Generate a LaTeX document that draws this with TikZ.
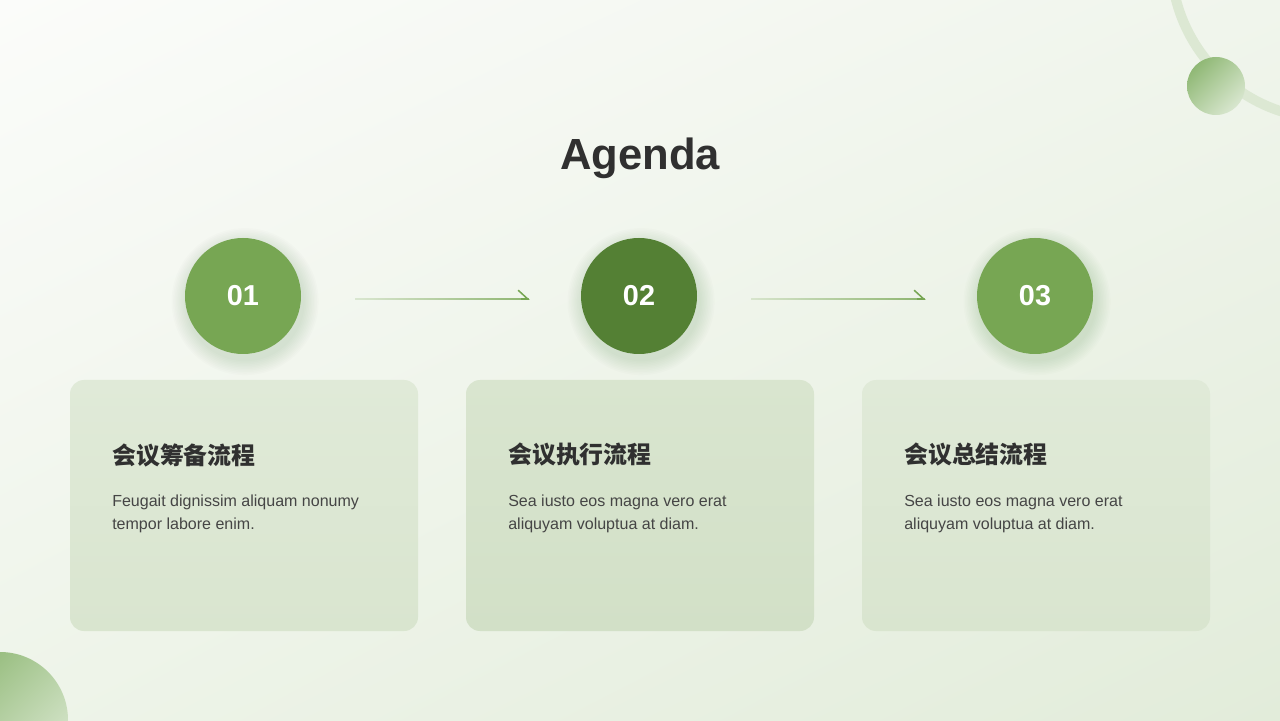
\documentclass[tikz,border=0pt]{standalone}
\usepackage{fontspec}
\setmainfont{Liberation Sans}
\newfontfamily\cjk{Noto Sans CJK SC}
\usepackage{tikz}
\usetikzlibrary{positioning,arrows.meta,fadings,shadings,backgrounds}
\usepackage{xcolor}
\definecolor{leafgreen}{HTML}{77A653}
\definecolor{darkleaf}{HTML}{548034}
\definecolor{cardtop}{HTML}{E0EAD8}
\definecolor{cardbot}{HTML}{D9E5CF}
\definecolor{midtop}{HTML}{D9E5CF}
\definecolor{midbot}{HTML}{D2E0C7}
\definecolor{inkgray}{HTML}{303030}
\definecolor{bodygray}{HTML}{454545}
\definecolor{ringgreen}{HTML}{DCE8D3}
\definecolor{bgul}{HTML}{FBFCFA}
\definecolor{bgur}{HTML}{F0F5EC}
\definecolor{bgll}{HTML}{EEF4E9}
\definecolor{bglr}{HTML}{E2ECDA}
\definecolor{balldeep}{HTML}{80AE62}
\definecolor{ballmid}{HTML}{B4D0A2}
\definecolor{ballpale}{HTML}{E8F0E2}

\begin{document}
\begin{tikzpicture}[
  numcirc/.style={circle,fill=leafgreen,text=white,minimum size=2.9cm,inner sep=0pt,
                  font=\fontsize{20.5}{24}\selectfont\bfseries},
  glow/.style={fill=leafgreen!70!black,opacity=0.014},
  card/.style={rectangle,rounded corners=0.35cm,top color=cardtop,bottom color=cardbot,
               minimum width=8.7cm,minimum height=6.275cm},
  head/.style={anchor=west,inner sep=0pt,text=inkgray,font=\cjk\bfseries\fontsize{17}{20}\selectfont},
  body/.style={anchor=north west,inner sep=0pt,align=left,text=bodygray,
               font=\fontsize{11.4}{16.4}\selectfont},
  arr/.style={leafgreen,line width=1.1pt,shorten <=1.35cm,shorten >=1.3cm,path fading=west,
              transform canvas={yshift=-0.075cm}},
  tip/.style={-{Straight Barb[left,length=0.24cm,width=0.44cm]},leafgreen,line width=1.1pt,
              shorten <=5.5cm,shorten >=1.275cm,transform canvas={yshift=-0.075cm}},
  ball/.style={upper left=balldeep,upper right=ballmid,lower left=ballmid,lower right=ballpale}
]
\useasboundingbox (0,0) rectangle (32,18);
\begin{scope}
  \clip (0,0) rectangle (32,18);
  \draw[ringgreen,line width=0.25cm] (33.25,19) circle (3.975);
  \shade[ball] (30.4,15.85) circle (0.725);
  \shade[ball] (0,0) circle (1.7);
\end{scope}

\node[font=\fontsize{31}{36}\selectfont\bfseries,text=inkgray,anchor=base] (title) at (16,13.75) {Agenda};

\node[numcirc] (c1) at (6.075,10.6) {01};
\node[numcirc,fill=darkleaf] (c2) at (15.975,10.6) {02};
\node[numcirc] (c3) at (25.875,10.6) {03};
\draw[arr] (c1) -- (c2);
\draw[tip] (c1) -- (c2);
\draw[arr] (c2) -- (c3);
\draw[tip] (c2) -- (c3);

\node[card] (card1) at (6.1,5.3625) {};
\node[card,top color=midtop,bottom color=midbot] (card2) at (16,5.3625) {};
\node[card] (card3) at (25.9,5.3625) {};

\node[head] (h1) at (2.8,6.625) {会议筹备流程};
\node[head] (h2) at (12.7,6.625) {会议执行流程};
\node[head] (h3) at (22.6,6.625) {会议总结流程};
\node[body] (t1) at (2.8,5.64) {Feugait dignissim aliquam nonumy\\tempor labore enim.};
\node[body] (t2) at (12.7,5.64) {Sea iusto eos magna vero erat\\aliquyam voluptua at diam.};
\node[body] (t3) at (22.6,5.64) {Sea iusto eos magna vero erat\\aliquyam voluptua at diam.};

\begin{scope}[on background layer]
  \shade[upper left=bgul,upper right=bgur,lower left=bgll,lower right=bglr] (0,0) rectangle (32,18);
  \foreach \n in {c1,c2,c3}
    \foreach \k in {1,...,10}
      \fill[glow] ([xshift=1.5pt,yshift=-4pt]\n.center) circle ({1.45cm+\k*1.1pt});
\end{scope}
\end{tikzpicture}
\end{document}
